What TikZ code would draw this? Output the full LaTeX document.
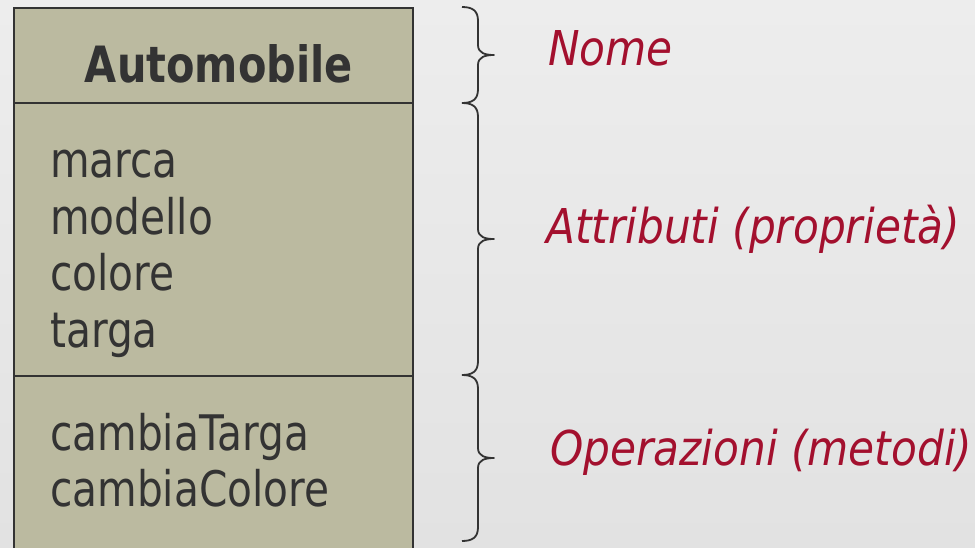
\documentclass[tikz,border=0pt]{standalone}
\usepackage{fontspec}
\setmainfont{DejaVu Sans}[FakeStretch=0.88]
\newfontfamily\boxfont{DejaVu Sans}[FakeStretch=0.83]
\definecolor{bgtop}{HTML}{EDEDED}
\definecolor{bgbot}{HTML}{E2E2E2}
\definecolor{classfill}{HTML}{BBBAA0}
\definecolor{ink}{HTML}{333333}
\definecolor{labelred}{HTML}{A3102E}
\tikzset{
  classbox/.style={fill=classfill, draw=ink, line width=2pt},
  divider/.style={draw=ink, line width=2pt},
  member/.style={anchor=base west, inner sep=0pt, text=ink,
                 font=\boxfont\fontsize{49}{56}\selectfont},
  classname/.style={anchor=base, inner sep=0pt, text=ink,
                    font=\boxfont\fontsize{50}{56}\selectfont\bfseries},
  caption/.style={anchor=base west, inner sep=0pt, text=labelred,
                  font=\fontsize{48}{56}\selectfont\itshape},
  curly/.style={draw=ink, line width=1.8pt, line join=round}
}
% right-pointing curly brace between two heights
\newcommand{\rightcurly}[2]{%
  \draw[curly] (462,#1) .. controls (473,#1) and (478,{#1+4}) .. (478,{#1+14})
    -- (478,{(#1+#2)/2-10})
    .. controls (478,{(#1+#2)/2-2}) and (485,{(#1+#2)/2}) .. (494,{(#1+#2)/2})
    .. controls (485,{(#1+#2)/2}) and (478,{(#1+#2)/2+2}) .. (478,{(#1+#2)/2+10})
    -- (478,{#2-14})
    .. controls (478,{#2-4}) and (473,#2) .. (462,#2);}
\begin{document}
\begin{tikzpicture}[x=1pt, y=-1pt]
  \useasboundingbox (0,0) rectangle (975,547);
  \clip (0,0) rectangle (975,547);
  \shade[top color=bgtop, bottom color=bgbot] (0,0) rectangle (975,547);

  % class box with its three compartments
  \path[classbox] (14,8) rectangle (413,570);
  \coordinate (d1l) at (14,103);  \coordinate (d1r) at (413,103);
  \coordinate (d2l) at (14,376);  \coordinate (d2r) at (413,376);
  \draw[divider] (d1l) -- (d1r);
  \draw[divider] (d2l) -- (d2r);

  \node[classname] (cname) at (219,82) {Automobile};

  \node[member] (a1) at (50,177) {marca};
  \node[member] (a2) at (50,234) {modello};
  \node[member] (a3) at (50,290) {colore};
  \node[member] (a4) at (50,347) {targa};

  \node[member] (m1) at (50,450) {cambiaTarga};
  \node[member] (m2) at (50,506) {cambiaColore};

  % braces and their captions
  \rightcurly{7}{103}
  \rightcurly{103}{375}
  \rightcurly{375}{541}

  \node[caption] (lname)  at (548,65)  {Nome};
  \node[caption] (lattr)  at (546,243) {Attributi (proprietà)};
  \node[caption] (lops)   at (550,465) {Operazioni (metodi)};
\end{tikzpicture}
\end{document}
